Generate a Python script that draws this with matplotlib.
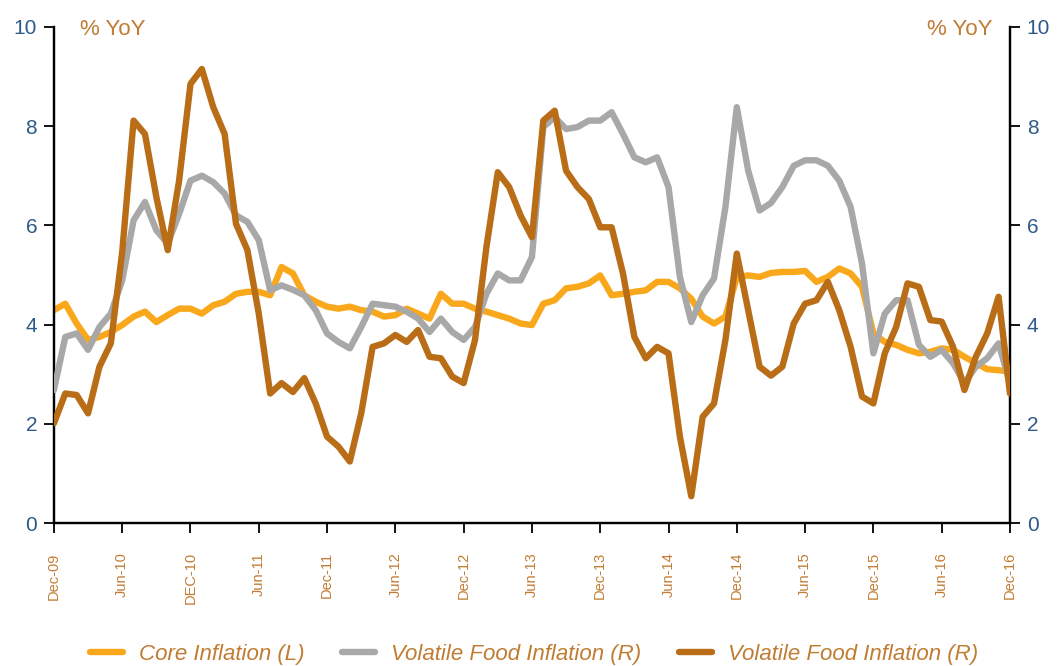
import numpy as np
import pandas as pd
import matplotlib
matplotlib.use("Agg")
from matplotlib import pyplot as plt
from matplotlib.lines import Line2D

plt.rcParams['font.family'] = ['Liberation Sans', 'DejaVu Sans']

# monthly, Dec-09 .. Dec-16
months = pd.date_range("2009-12-01", "2016-12-01", freq="MS")

core = [4.29, 4.42, 4.02, 3.69, 3.75, 3.85, 3.99, 4.16, 4.26, 4.05,
        4.19, 4.32, 4.32, 4.22, 4.39, 4.46, 4.62, 4.66, 4.66, 4.59,
        5.16, 5.03, 4.59, 4.46, 4.36, 4.32, 4.36, 4.29, 4.26, 4.16,
        4.19, 4.32, 4.22, 4.12, 4.62, 4.42, 4.42, 4.32, 4.26, 4.19,
        4.12, 4.02, 3.99, 4.42, 4.49, 4.73, 4.76, 4.83, 4.99, 4.59,
        4.62, 4.66, 4.69, 4.86, 4.86, 4.73, 4.52, 4.16, 4.02, 4.16,
        4.95, 4.99, 4.96, 5.04, 5.06, 5.06, 5.08, 4.86, 4.96, 5.13,
        5.03, 4.76, 3.82, 3.65, 3.59, 3.49, 3.42, 3.45, 3.52, 3.49,
        3.35, 3.22, 3.10, 3.08, 3.05]

food_grey = [2.68, 3.75, 3.82, 3.49, 3.95, 4.22, 4.89, 6.10, 6.47, 5.90,
             5.63, 6.23, 6.90, 7.00, 6.87, 6.64, 6.20, 6.07, 5.70, 4.69,
             4.79, 4.70, 4.59, 4.29, 3.82, 3.65, 3.52, 3.95, 4.42, 4.39,
             4.36, 4.26, 4.12, 3.85, 4.12, 3.85, 3.69, 3.95, 4.62, 5.03,
             4.89, 4.89, 5.36, 7.98, 8.18, 7.94, 7.98, 8.11, 8.11, 8.28,
             7.84, 7.37, 7.27, 7.37, 6.77, 4.96, 4.05, 4.59, 4.93, 6.37,
             8.38, 7.10, 6.30, 6.45, 6.77, 7.20, 7.31, 7.31, 7.20, 6.90,
             6.37, 5.23, 3.42, 4.22, 4.49, 4.49, 3.59, 3.35, 3.49, 3.22,
             2.82, 3.15, 3.32, 3.62, 2.82]

food_brown = [2.01, 2.61, 2.58, 2.21, 3.15, 3.62, 5.46, 8.11, 7.84, 6.57,
              5.50, 6.90, 8.85, 9.15, 8.38, 7.84, 6.03, 5.50, 4.22, 2.61,
              2.82, 2.64, 2.92, 2.41, 1.74, 1.54, 1.24, 2.21, 3.55, 3.62,
              3.79, 3.65, 3.89, 3.35, 3.32, 2.95, 2.82, 3.69, 5.56, 7.07,
              6.77, 6.20, 5.76, 8.11, 8.31, 7.10, 6.77, 6.53, 5.96, 5.96,
              5.03, 3.75, 3.32, 3.55, 3.42, 1.74, 0.54, 2.14, 2.41, 3.69,
              5.43, 4.29, 3.15, 2.97, 3.15, 4.02, 4.42, 4.49, 4.86, 4.29,
              3.55, 2.55, 2.41, 3.42, 3.95, 4.83, 4.76, 4.09, 4.06, 3.55,
              2.68, 3.35, 3.82, 4.56, 2.61]

tick_labels = ["Dec-09", "Jun-10", "DEC-10", "Jun-11", "Dec-11", "Jun-12",
               "Dec-12", "Jun-13", "Dec-13", "Jun-14", "Dec-14", "Jun-15",
               "Dec-15", "Jun-16", "Dec-16"]

CORE_C = "#F9A81B"
GREY_C = "#A8A8A8"
BROWN_C = "#B96D17"
TEXT_C = "#C17C33"
NUM_C = "#2E5A8A"

x = np.arange(len(months))

fig = plt.figure(figsize=(10.57, 6.66), dpi=100)
ax = fig.add_axes([0.051, 0.2147, 0.9045, 0.745])
ax2 = ax.twinx()

kw = dict(linewidth=4.6, solid_capstyle='round', solid_joinstyle='round')
ax.plot(x, core, color=CORE_C, zorder=2, **kw)
ax2.plot(x, food_grey, color=GREY_C, zorder=3, **kw)
ax2.plot(x, food_brown, color=BROWN_C, zorder=4, **kw)

for a in (ax, ax2):
    a.set_ylim(0, 10)
    a.set_yticks(range(0, 11, 2))
    a.set_xlim(0, len(months) - 1)
    for s in a.spines.values():
        s.set_linewidth(1.6)
        s.set_color("black")
    a.spines['top'].set_visible(False)
    a.tick_params(axis='y', colors="black", labelcolor=NUM_C, labelsize=15,
                  length=7, width=1.3, pad=5)

ax.set_xticks(x[::6])
ax.set_xticklabels(tick_labels, rotation=90, color=TEXT_C, fontsize=10.5)
ax.tick_params(axis='x', length=7, width=1.3, direction='out', pad=14)

ax.text(0.027, 0.995, "% YoY", transform=ax.transAxes, color=TEXT_C,
        fontsize=16, ha='left', va='center')
ax.text(0.982, 0.995, "% YoY", transform=ax.transAxes, color=TEXT_C,
        fontsize=16, ha='right', va='center')

handles = [Line2D([], [], color=CORE_C, **kw),
           Line2D([], [], color=GREY_C, **kw),
           Line2D([], [], color=BROWN_C, **kw)]
names = ["Core Inflation (L)", "Volatile Food Inflation (R)",
         "Volatile Food Inflation (R)"]
leg = fig.legend(handles, names, loc='center', bbox_to_anchor=(0.505, 0.018),
                 ncol=3, frameon=False, handlelength=1.5, handletextpad=0.7,
                 columnspacing=1.7, prop={'size': 16, 'style': 'italic'})
for t in leg.get_texts():
    t.set_color(TEXT_C)

fig.savefig("out.png", dpi=100)
